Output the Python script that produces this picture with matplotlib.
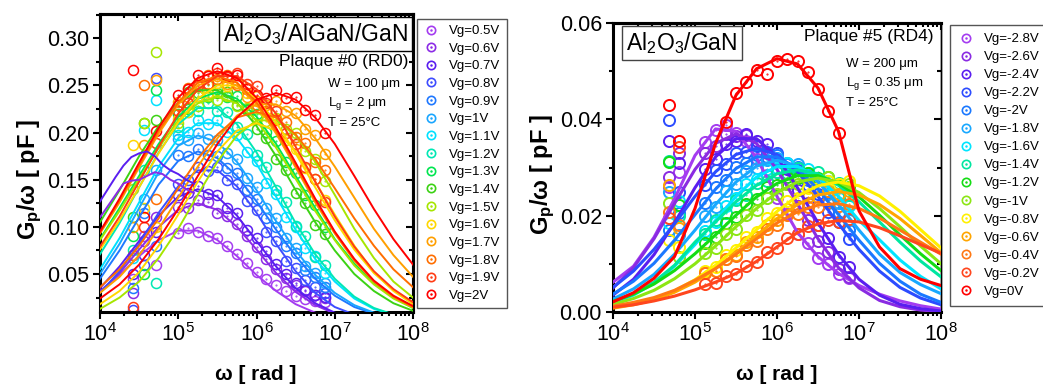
import numpy as np
import matplotlib.pyplot as plt
from matplotlib.lines import Line2D
from matplotlib.legend_handler import HandlerTuple
from matplotlib.ticker import LogLocator, MultipleLocator, NullFormatter

plt.rcParams['font.family'] = ['Liberation Sans', 'DejaVu Sans']
plt.rcParams['mathtext.fontset'] = 'custom'
plt.rcParams['mathtext.rm'] = 'Liberation Sans'
plt.rcParams['mathtext.it'] = 'Liberation Sans:italic'
plt.rcParams['mathtext.bf'] = 'Liberation Sans:bold'

# ---------------- data: left panel (Al2O3/AlGaN/GaN) ----------------
left_vg = ['0.5', '0.6', '0.7', '0.8', '0.9', '1', '1.1', '1.2', '1.3', '1.4',
           '1.5', '1.6', '1.7', '1.8', '1.9', '2']
left_colors = ['#a43cf0', '#8c2be6', '#5a1ef0', '#3d4cff', '#1f78ff', '#1aa6ff',
               '#00e1ff', '#00e8b4', '#00e650', '#3cd214', '#a6e600', '#ffd700',
               '#ff9f00', '#ff6e00', '#ff3c14', '#ff0000']

# log10(omega) where the fit curves were read
fit_logw = [4.0, 4.25, 4.5, 4.75, 5.0, 5.25, 5.5, 5.75, 6.0, 6.25, 6.5, 6.75,
            7.0, 7.25, 7.5, 7.75, 8.0]

left_fit = [
    [0.032, 0.049, 0.069, 0.086, 0.096, 0.096, 0.086, 0.069, 0.049, 0.032, 0.018, 0.009, 0.004, 0.002, 0.001, 0.001, 0.000],
    [0.031, 0.051, 0.076, 0.100, 0.118, 0.125, 0.118, 0.100, 0.076, 0.051, 0.031, 0.017, 0.008, 0.004, 0.001, 0.000, 0.000],
    [0.035, 0.058, 0.085, 0.112, 0.132, 0.140, 0.132, 0.112, 0.085, 0.058, 0.035, 0.019, 0.009, 0.004, 0.002, 0.001, 0.000],
    [0.030, 0.053, 0.082, 0.115, 0.143, 0.160, 0.160, 0.143, 0.115, 0.082, 0.053, 0.030, 0.015, 0.007, 0.003, 0.001, 0.000],
    [0.045, 0.075, 0.110, 0.145, 0.170, 0.180, 0.173, 0.154, 0.127, 0.097, 0.069, 0.045, 0.027, 0.015, 0.008, 0.004, 0.002],
    [0.050, 0.082, 0.120, 0.158, 0.186, 0.197, 0.190, 0.169, 0.139, 0.106, 0.075, 0.049, 0.030, 0.017, 0.009, 0.004, 0.002],
    [0.055, 0.088, 0.126, 0.164, 0.194, 0.210, 0.210, 0.194, 0.167, 0.132, 0.097, 0.066, 0.042, 0.024, 0.013, 0.007, 0.003],
    [0.071, 0.104, 0.142, 0.179, 0.209, 0.226, 0.226, 0.209, 0.179, 0.142, 0.104, 0.071, 0.045, 0.026, 0.014, 0.007, 0.003],
    [0.087, 0.120, 0.154, 0.188, 0.217, 0.236, 0.243, 0.236, 0.217, 0.188, 0.154, 0.120, 0.087, 0.061, 0.040, 0.025, 0.014],
    [0.105, 0.139, 0.175, 0.207, 0.232, 0.245, 0.245, 0.232, 0.207, 0.175, 0.139, 0.105, 0.075, 0.050, 0.032, 0.019, 0.011],
    [0.086, 0.117, 0.151, 0.184, 0.213, 0.231, 0.238, 0.231, 0.213, 0.184, 0.151, 0.117, 0.086, 0.059, 0.039, 0.024, 0.014],
    [0.076, 0.107, 0.142, 0.178, 0.211, 0.236, 0.250, 0.250, 0.236, 0.211, 0.178, 0.142, 0.107, 0.076, 0.051, 0.033, 0.020],
    [0.093, 0.126, 0.163, 0.199, 0.230, 0.250, 0.257, 0.250, 0.230, 0.199, 0.163, 0.126, 0.093, 0.064, 0.042, 0.026, 0.015],
    [0.094, 0.128, 0.165, 0.202, 0.232, 0.253, 0.260, 0.253, 0.232, 0.202, 0.165, 0.128, 0.094, 0.065, 0.042, 0.026, 0.015],
    [0.079, 0.111, 0.148, 0.185, 0.220, 0.246, 0.260, 0.260, 0.246, 0.220, 0.185, 0.148, 0.111, 0.079, 0.053, 0.034, 0.020],
    [0.095, 0.130, 0.168, 0.205, 0.237, 0.258, 0.265, 0.258, 0.237, 0.205, 0.168, 0.130, 0.095, 0.066, 0.043, 0.027, 0.016],
]

# second (high-frequency) trap fit for some gate voltages, keyed by series index
left_fit_hi = {
    10: [0.013, 0.025, 0.042, 0.067, 0.098, 0.134, 0.169, 0.197, 0.213, 0.213, 0.197, 0.169, 0.134, 0.098, 0.067, 0.042, 0.025],
    11: [0.018, 0.032, 0.052, 0.080, 0.113, 0.148, 0.180, 0.202, 0.210, 0.202, 0.180, 0.148, 0.113, 0.080, 0.052, 0.032, 0.018],
    12: [0.030, 0.047, 0.070, 0.098, 0.131, 0.164, 0.194, 0.218, 0.230, 0.230, 0.218, 0.194, 0.164, 0.131, 0.098, 0.070, 0.047],
    13: [0.036, 0.055, 0.080, 0.109, 0.141, 0.172, 0.198, 0.216, 0.222, 0.216, 0.198, 0.172, 0.141, 0.109, 0.080, 0.055, 0.036],
    15: [0.024, 0.039, 0.060, 0.087, 0.119, 0.154, 0.188, 0.216, 0.235, 0.242, 0.235, 0.216, 0.188, 0.154, 0.119, 0.087, 0.060],
}

# raw (unfitted) low-frequency traces
left_raw_logw = [4.0, 4.1, 4.2, 4.3, 4.4, 4.5, 4.6, 4.7, 4.8, 4.9, 5.0, 5.1, 5.2]
left_raw_07 = [0.127, 0.140, 0.153, 0.165, 0.174, 0.178, 0.180, 0.175, 0.166, 0.160, 0.156, 0.150, 0.146]
left_raw_06 = [0.110, 0.122, 0.134, 0.146, 0.149, 0.150, 0.154, 0.158, 0.156, 0.150, 0.146, 0.140, 0.136]

# measured points
left_meas_logw = [5.0, 5.125, 5.25, 5.375, 5.5, 5.625, 5.75, 5.875, 6.0, 6.125,
                  6.25, 6.375, 6.5, 6.625, 6.75, 6.875]
left_meas = [
    [.094, .099, .095, .090, .088, .080, .071, .062, .052, .045, .038, .032, .027, .024, .021, .020],
    [.121, .120, .128, .126, .115, .112, .103, .090, .079, .066, .055, .046, .038, .032, .028, .025],
    [.134, .136, .143, .135, .134, .120, .115, .097, .088, .074, .061, .050, .040, .033, .028, .026],
    [.146, .150, .163, .159, .163, .150, .146, .127, .118, .095, .085, .064, .056, .044, .036, .030],
    [.176, .175, .183, .176, .175, .162, .157, .139, .130, .109, .100, .080, .072, .054, .047, .036],
    [.193, .192, .200, .193, .192, .178, .172, .152, .142, .120, .109, .088, .078, .059, .051, .040],
    [.197, .201, .213, .209, .213, .201, .197, .179, .170, .147, .135, .111, .100, .078, .069, .051],
    [.206, .222, .223, .231, .223, .222, .206, .198, .176, .164, .139, .126, .101, .090, .068, .060],
    [.220, .225, .239, .238, .246, .238, .239, .225, .220, .201, .191, .169, .157, .134, .123, .100],
    [.229, .243, .242, .250, .242, .243, .229, .224, .204, .194, .172, .160, .136, .125, .102, .092],
    [.210, .226, .228, .239, .235, .239, .228, .226, .216, .212, .216, .204, .200, .181, .172, .149],
    [.214, .222, .239, .242, .253, .249, .253, .242, .239, .222, .214, .192, .183, .162, .151, .128],
    [.232, .238, .253, .252, .260, .252, .253, .238, .233, .229, .233, .223, .221, .204, .197, .177],
    [.229, .247, .250, .261, .257, .261, .250, .247, .229, .223, .213, .211, .195, .189, .169, .160],
    [.223, .231, .249, .252, .263, .259, .263, .252, .249, .231, .223, .200, .188, .163, .151, .126],
    [.240, .246, .261, .260, .268, .260, .261, .246, .240, .237, .245, .237, .238, .224, .219, .200],
]
left_low_logw = [4.42, 4.56, 4.72]
left_low = [
    [.045, .090, .060], [.030, .085, .110], [.050, .070, .095], [.012, .060, .258],
    [.035, .115, .080], [.070, .130, .160], [.067, .203, .235], [.075, .160, .040],
    [.090, .050, .245], [.110, .210, .213], [.140, .210, .286], [.187, .120, .100],
    [.100, .187, .256], [.070, .250, .130], [.015, .100, .189], [.266, .111, .202],
]

# ---------------- data: right panel (Al2O3/GaN) ----------------
right_vg = ['-2.8', '-2.6', '-2.4', '-2.2', '-2', '-1.8', '-1.6', '-1.4', '-1.2',
            '-1', '-0.8', '-0.6', '-0.4', '-0.2', '0']
right_colors = ['#a43cf0', '#8a2be2', '#5a1ef0', '#2c4cff', '#1a78ff', '#18a8ff',
                '#00e5ff', '#00e6a0', '#14dc14', '#8ce614', '#fff000', '#ffa500',
                '#ff7814', '#ff461e', '#ff0000']

right_fit = [
    [0.0062, 0.0095, 0.0155, 0.0235, 0.0325, 0.0380, 0.0375, 0.0320, 0.0240, 0.0165, 0.0115, 0.0080, 0.0055, 0.0037, 0.0023, 0.0013, 0.0006],
    [0.0050, 0.0092, 0.0152, 0.0225, 0.0296, 0.0350, 0.0370, 0.0350, 0.0296, 0.0225, 0.0152, 0.0092, 0.0050, 0.0024, 0.0011, 0.0004, 0.0001],
    [0.0035, 0.0068, 0.0119, 0.0185, 0.0258, 0.0322, 0.0360, 0.0360, 0.0322, 0.0258, 0.0185, 0.0119, 0.0068, 0.0035, 0.0016, 0.0007, 0.0002],
    [0.0051, 0.0085, 0.0130, 0.0183, 0.0240, 0.0291, 0.0327, 0.0340, 0.0327, 0.0291, 0.0240, 0.0183, 0.0130, 0.0085, 0.0051, 0.0029, 0.0015],
    [0.0037, 0.0064, 0.0101, 0.0149, 0.0202, 0.0255, 0.0298, 0.0322, 0.0322, 0.0298, 0.0255, 0.0202, 0.0149, 0.0101, 0.0064, 0.0037, 0.0020],
    [0.0027, 0.0048, 0.0078, 0.0120, 0.0170, 0.0223, 0.0270, 0.0303, 0.0315, 0.0303, 0.0270, 0.0223, 0.0170, 0.0120, 0.0082, 0.0057, 0.0038],
    [0.0019, 0.0035, 0.0060, 0.0095, 0.0140, 0.0190, 0.0240, 0.0280, 0.0302, 0.0302, 0.0280, 0.0240, 0.0190, 0.0150, 0.0108, 0.0074, 0.0048],
    [0.0022, 0.0038, 0.0062, 0.0097, 0.0145, 0.0187, 0.0229, 0.0263, 0.0287, 0.0295, 0.0287, 0.0263, 0.0229, 0.0187, 0.0145, 0.0106, 0.0073],
    [0.0022, 0.0037, 0.0058, 0.0086, 0.0121, 0.0160, 0.0201, 0.0239, 0.0267, 0.0283, 0.0283, 0.0267, 0.0239, 0.0201, 0.0160, 0.0121, 0.0086],
    [0.0016, 0.0028, 0.0045, 0.0069, 0.0100, 0.0137, 0.0177, 0.0215, 0.0248, 0.0270, 0.0278, 0.0270, 0.0248, 0.0215, 0.0177, 0.0137, 0.0100],
    [0.0009, 0.0016, 0.0027, 0.0044, 0.0067, 0.0097, 0.0133, 0.0171, 0.0209, 0.0241, 0.0262, 0.0270, 0.0262, 0.0241, 0.0209, 0.0171, 0.0133],
    [0.0008, 0.0015, 0.0025, 0.0041, 0.0062, 0.0090, 0.0123, 0.0159, 0.0194, 0.0223, 0.0243, 0.0250, 0.0243, 0.0223, 0.0194, 0.0159, 0.0123],
    [0.0012, 0.0020, 0.0030, 0.0045, 0.0066, 0.0090, 0.0120, 0.0152, 0.0185, 0.0208, 0.0222, 0.0225, 0.0215, 0.0195, 0.0170, 0.0145, 0.0120],
    [0.0010, 0.0015, 0.0023, 0.0033, 0.0046, 0.0062, 0.0080, 0.0105, 0.0135, 0.0165, 0.0183, 0.0190, 0.0187, 0.0175, 0.0158, 0.0140, 0.0122],
    [0.0021, 0.0040, 0.0070, 0.0115, 0.0215, 0.0350, 0.0450, 0.0505, 0.0526, 0.0515, 0.0465, 0.0375, 0.0210, 0.0135, 0.0090, 0.0068, 0.0055],
]

nan = float('nan')
right_meas_logw = [5.125, 5.25, 5.375, 5.5, 5.625, 5.75, 5.875, 6.0, 6.125, 6.25,
                   6.375, 6.5, 6.625, 6.75, 6.875]
right_meas = [
    [.0352, .0377, .0388, .0371, .0354, .0318, .0285, .0236, .0204, .0162, .0143, .0112, .0100, .0078, .0070],
    [.0330, .0345, .0369, .0366, .0368, .0346, .0330, .0291, .0266, .0220, .0190, .0148, .0124, .0089, .0073],
    [.0296, .0318, .0349, .0356, .0369, .0356, .0349, .0318, .0296, .0254, .0226, .0181, .0154, .0115, .0094],
    [.0263, .0295, .0308, .0331, .0333, .0344, .0333, .0331, .0308, .0295, .0263, .0244, .0208, .0187, .0152],
    [.0226, .0259, .0275, .0302, .0309, .0326, .0321, .0326, .0309, .0302, .0275, .0259, .0226, .0206, .0171],
    [.0200, .0219, .0252, .0266, .0293, .0299, .0316, .0319, .0308, .0307, .0285, .0274, .0244, .0227, .0192],
    [.0168, .0186, .0220, .0236, .0265, .0276, .0297, .0298, .0309, .0298, .0297, .0276, .0265, .0236, .0220],
    [.0162, .0191, .0205, .0233, .0243, .0267, .0273, .0291, .0289, .0299, .0289, .0291, .0273, .0267, .0243],
    [.0144, .0156, .0185, .0197, .0225, .0235, .0259, .0263, .0281, .0279, .0289, .0279, .0281, .0263, .0259],
    [.0122, .0133, .0161, .0173, .0201, .0211, .0237, .0244, .0265, .0266, .0280, .0274, .0280, .0266, .0265],
    [.0086, .0093, .0118, .0129, .0156, .0167, .0195, .0205, .0230, .0237, .0257, .0258, .0272, .0266, .0271],
    [.0080, .0086, .0110, .0119, .0145, .0155, .0181, .0190, .0214, .0219, .0239, .0239, .0252, .0246, .0251],
    [.0082, .0086, .0109, .0116, .0140, .0148, .0172, .0181, .0201, .0204, .0219, .0218, .0228, .0221, .0224],
    [.0058, .0060, .0075, .0078, .0096, .0103, .0124, .0133, .0154, .0162, .0178, .0180, .0191, .0187, .0193],
    [nan, nan, .0395, .0455, .0478, .0503, .0495, .0522, .0526, .0521, .0498, .0464, .0418, .0372, nan],
]
right_low_logw = [4.68, 4.80]
right_low = [
    [.0260, .0290], [.0280, .0330], [.0354, .0310], [.0398, .0250], [.0170, .0205],
    [.0250, .0160], [.0185, .0230], [.0313, .0200], [.0311, .0222], [.0226, .0114],
    [.0150, .0135], [.0263, .0174], [.0208, .0180], [.0196, .0343], [.0429, .0354],
]


def style_axes(ax, ylim, major, minor, right_lw):
    ax.set_xscale('log')
    ax.set_xlim(1e4, 1e8)
    ax.set_ylim(*ylim)
    ax.yaxis.set_major_locator(MultipleLocator(major))
    ax.yaxis.set_minor_locator(MultipleLocator(minor))
    ax.xaxis.set_major_locator(LogLocator(base=10, numticks=10))
    ax.xaxis.set_minor_locator(LogLocator(base=10, subs=np.arange(2, 10), numticks=10))
    ax.xaxis.set_minor_formatter(NullFormatter())
    ax.tick_params(which='both', direction='out', labelsize=15.5, width=1.5, pad=3)
    ax.tick_params(which='major', length=5)
    ax.tick_params(which='minor', length=3)
    for s in ['left', 'bottom', 'top']:
        ax.spines[s].set_linewidth(2.2)
    ax.spines['right'].set_linewidth(right_lw)
    # inward ticks on the top and right edges
    top = ax.secondary_xaxis('top')
    top.xaxis.set_major_locator(LogLocator(base=10, numticks=10))
    top.xaxis.set_minor_locator(LogLocator(base=10, subs=np.arange(2, 10), numticks=10))
    top.xaxis.set_major_formatter(NullFormatter())
    top.xaxis.set_minor_formatter(NullFormatter())
    top.tick_params(which='both', direction='in', width=1.5)
    top.tick_params(which='major', length=5)
    top.tick_params(which='minor', length=3)
    top.spines['top'].set_linewidth(2.2)
    right = ax.secondary_yaxis('right')
    right.yaxis.set_major_locator(MultipleLocator(major))
    right.yaxis.set_minor_locator(MultipleLocator(minor))
    right.yaxis.set_major_formatter(NullFormatter())
    right.tick_params(which='both', direction='in', width=1.5)
    right.tick_params(which='major', length=5)
    right.tick_params(which='minor', length=3)
    right.spines['right'].set_linewidth(right_lw)


def legend_handles(colors, ms):
    return [(Line2D([], [], ls='none', marker='o', mfc='none', mec=c, ms=ms, mew=1.2),
             Line2D([], [], ls='none', marker='o', color=c, ms=0.8)) for c in colors]


fig = plt.figure(figsize=(10.43, 3.85), dpi=100)
axL = fig.add_axes([100 / 1043, 1 - 312 / 385, 313 / 1043, 298 / 385])
axR = fig.add_axes([613 / 1043, 1 - 312 / 385, 328 / 1043, 289 / 385])

fw = 10 ** np.array(fit_logw)

# ---- left panel ----
for i, c in enumerate(left_colors):
    axL.plot(10 ** np.array(left_low_logw), left_low[i], 'o', mfc='none', mec=c, ms=7.2, mew=1.1, zorder=2)
    axL.plot(10 ** np.array(left_meas_logw), left_meas[i], 'o', mfc='none', mec=c, ms=7.2, mew=1.1, zorder=2)
    axL.plot(10 ** np.array(left_meas_logw), left_meas[i], '.', color=c, ms=1, zorder=2)
for i, c in enumerate(left_colors):
    axL.plot(fw, left_fit[i], color=c, lw=1.4, zorder=3)
    if i in left_fit_hi:
        axL.plot(fw, left_fit_hi[i], color=c, lw=1.4, zorder=3)
axL.plot(10 ** np.array(left_raw_logw), left_raw_07, color=left_colors[2], lw=1.4, zorder=3)
axL.plot(10 ** np.array(left_raw_logw), left_raw_06, color=left_colors[1], lw=1.4, zorder=3)
style_axes(axL, (0.0097, 0.3258), 0.05, 0.025, 2.2)

axL.text(0.984, 0.933, r'Al$_2$O$_3$/AlGaN/GaN', transform=axL.transAxes, ha='right', va='center',
         fontsize=16.5, zorder=10,
         bbox=dict(boxstyle='square,pad=0.18', fc='white', ec='black', lw=1))
axL.text(0.984, 0.839, 'Plaque #0 (RD0)', transform=axL.transAxes, ha='right', va='center',
         fontsize=12.5, zorder=10)
axL.text(0.728, 0.765, 'W = 100 μm', transform=axL.transAxes, ha='left', va='center', fontsize=9.5, zorder=10)
axL.text(0.728, 0.701, r'L$_\mathrm{g}$ = 2 μm', transform=axL.transAxes, ha='left', va='center',
         fontsize=9.5, zorder=10)
axL.text(0.728, 0.634, 'T = 25°C', transform=axL.transAxes, ha='left', va='center', fontsize=9.5, zorder=10)

fig.legend(legend_handles(left_colors, 6), ['Vg=%sV' % v for v in left_vg],
           loc='upper left', bbox_to_anchor=(417 / 1043, 1 - 19 / 385), fontsize=9.5,
           frameon=True, fancybox=False, edgecolor='#555555', framealpha=1,
           handler_map={tuple: HandlerTuple(ndivide=1)}, handlelength=1.2,
           handletextpad=0.8, labelspacing=0.41, borderpad=0.45, borderaxespad=0)

# ---- right panel ----
for i, c in enumerate(right_colors):
    axR.plot(10 ** np.array(right_low_logw), right_low[i], 'o', mfc='none', mec=c, ms=8, mew=1.4, zorder=2)
    axR.plot(10 ** np.array(right_meas_logw), right_meas[i], 'o', mfc='none', mec=c, ms=8, mew=1.4, zorder=2)
    axR.plot(10 ** np.array(right_meas_logw), right_meas[i], '.', color=c, ms=1, zorder=2)
for i, c in enumerate(right_colors):
    axR.plot(fw, right_fit[i], color=c, lw=2.2, zorder=3)
style_axes(axR, (0, 0.06), 0.02, 0.01, 1.0)

axR.text(0.21, 0.93, r'Al$_2$O$_3$/GaN', transform=axR.transAxes, ha='center', va='center',
         fontsize=16.5, zorder=10,
         bbox=dict(boxstyle='square,pad=0.18', fc='white', ec='#444444', lw=1))
axR.text(0.976, 0.952, 'Plaque #5 (RD4)', transform=axR.transAxes, ha='right', va='center',
         fontsize=12.5, zorder=10)
axR.text(0.71, 0.858, 'W = 200 μm', transform=axR.transAxes, ha='left', va='center', fontsize=9.5, zorder=10)
axR.text(0.71, 0.789, r'L$_\mathrm{g}$ = 0.35 μm', transform=axR.transAxes, ha='left', va='center',
         fontsize=9.5, zorder=10)
axR.text(0.71, 0.723, 'T = 25°C', transform=axR.transAxes, ha='left', va='center', fontsize=9.5, zorder=10)

fig.legend(legend_handles(right_colors, 6), ['Vg=%sV' % v for v in right_vg],
           loc='upper left', bbox_to_anchor=(950 / 1043, 1 - 25 / 385), fontsize=9.5,
           frameon=True, fancybox=False, edgecolor='#555555', framealpha=1,
           handler_map={tuple: HandlerTuple(ndivide=1)}, handlelength=1.2,
           handletextpad=0.8, labelspacing=0.44, borderpad=0.6, borderaxespad=0)

# ---- axis labels ----
for xc in [256 / 1043, 777 / 1043]:
    fig.text(xc, 1 - 375 / 385, 'ω [ rad ]', ha='center', va='center', fontsize=15, fontweight='bold')
fig.text(30 / 1043, 1 - 180 / 385, r'G$_\mathbf{p}$/ω [ pF ]', rotation=90, ha='center', va='center',
         fontsize=17, fontweight='bold')
fig.text(543 / 1043, 1 - 175 / 385, r'G$_\mathbf{p}$/ω [ pF ]', rotation=90, ha='center', va='center',
         fontsize=17, fontweight='bold')

fig.savefig('out.png', dpi=100)
